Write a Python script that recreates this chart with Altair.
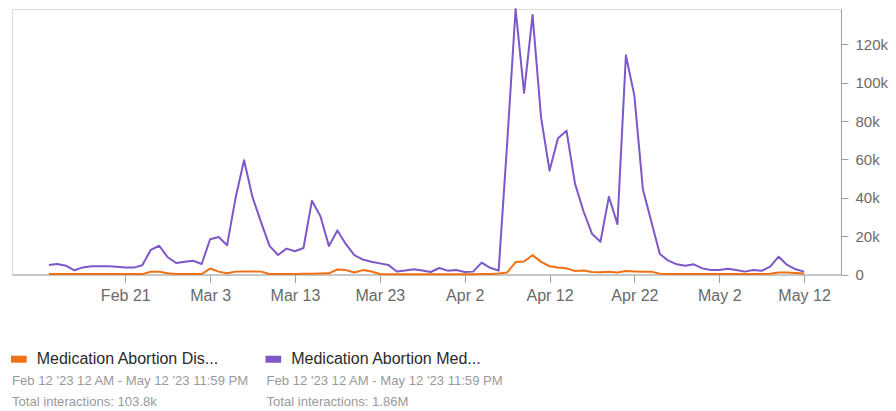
import altair as alt
import pandas as pd

# ---- data (values in thousands of interactions) ----
start_date = "2023-02-12"
end_date = "2023-05-12"

series_names = ["Medication Abortion Med...", "Medication Abortion Dis..."]
series_colors = ["#7e57c8", "#f07014"]
date_range_text = "Feb 12 '23 12 AM - May 12 '23 11:59 PM"
totals_text = ["Total interactions: 1.86M", "Total interactions: 103.8k"]

purple = [5.0, 5.5, 4.6, 2.2, 3.7, 4.3, 4.3, 4.3, 4.1, 3.6,
          3.6, 4.8, 12.8, 15.0, 9.0, 6.0, 6.7, 7.2, 5.5, 18.4,
          19.6, 15.3, 40.0, 59.6, 40.2, 27.3, 14.9, 10.2, 13.5, 12.1,
          13.8, 38.5, 30.4, 14.9, 23.0, 15.8, 10.1, 7.8, 6.7, 5.8,
          5.0, 1.6, 2.1, 2.7, 2.1, 1.3, 3.4, 2.0, 2.3, 1.3,
          1.5, 6.2, 3.5, 2.0, 68.0, 138.5, 94.7, 135.4, 82.0, 54.2,
          71.1, 75.0, 47.4, 33.0, 21.3, 17.1, 40.6, 26.3, 114.4, 93.2,
          44.5, 27.5, 10.7, 7.2, 5.3, 4.6, 5.3, 3.2, 2.3, 2.3,
          3.0, 2.3, 1.5, 2.3, 1.9, 4.1, 9.3, 5.0, 2.7, 1.5]

orange = [0.2, 0.2, 0.2, 0.2, 0.2, 0.2, 0.2, 0.2, 0.2, 0.2,
          0.2, 0.2, 1.4, 1.4, 0.6, 0.2, 0.2, 0.3, 0.2, 3.1,
          1.5, 0.6, 1.5, 1.6, 1.6, 1.5, 0.3, 0.2, 0.2, 0.3,
          0.4, 0.4, 0.5, 0.6, 2.6, 2.3, 1.0, 2.3, 1.6, 0.3,
          0.1, 0.1, 0.1, 0.1, 0.1, 0.1, 0.1, 0.1, 0.1, 0.1,
          0.1, 0.2, 0.3, 0.5, 1.0, 6.5, 6.8, 10.1, 6.6, 4.3,
          3.7, 3.2, 1.8, 2.1, 1.3, 1.2, 1.4, 1.1, 1.8, 1.6,
          1.4, 1.5, 0.4, 0.2, 0.2, 0.2, 0.2, 0.2, 0.2, 0.2,
          0.2, 0.2, 0.2, 0.2, 0.2, 0.4, 1.0, 1.0, 0.8, 0.5]

y_ticks = [0, 20, 40, 60, 80, 100, 120]
x_tick_dates = [(2, 21), (3, 3), (3, 13), (3, 23), (4, 2), (4, 12), (4, 22), (5, 2), (5, 12)]

dates = pd.date_range(start_date, end_date, freq="D").strftime("%Y-%m-%dT00:00:00Z")
df = pd.concat([
    pd.DataFrame({"date": dates, "value": purple, "series": series_names[0]}),
    pd.DataFrame({"date": dates, "value": orange, "series": series_names[1]}),
])

FONT = "Liberation Sans"
W, H = 829, 265.5

x_scale = alt.Scale(
    type="utc",
    domain=[alt.DateTime(year=2023, month=2, date=7, hours=15, minutes=36, utc=True),
            alt.DateTime(year=2023, month=5, date=16, hours=8, minutes=24, utc=True)],
)

lines = alt.Chart(df).mark_line(strokeWidth=2, strokeJoin="round").encode(
    x=alt.X("date:T", scale=x_scale, title=None,
            axis=alt.Axis(values=[alt.DateTime(year=2023, month=m, date=d, utc=True) for m, d in x_tick_dates],
                          labelExpr="utcFormat(datum.value, '%b %-d')",
                          grid=False, domainColor="#a0a0a0", tickColor="#a0a0a0",
                          tickSize=8, labelPadding=18, labelBaseline="alphabetic",
                          labelColor="#6a6a6a", labelFont=FONT, labelFontSize=16,
                          labelFlush=False, labelOverlap=False)),
    y=alt.Y("value:Q", scale=alt.Scale(domain=[0, 138.5], nice=False), title=None,
            axis=alt.Axis(orient="right", values=y_ticks,
                          labelExpr="datum.value == 0 ? '0' : datum.value + 'k'",
                          grid=False, domainColor="#a0a0a0", tickColor="#a0a0a0",
                          tickSize=7, labelPadding=7,
                          labelColor="#6a6a6a", labelFont=FONT, labelFontSize=15,
                          labelFlush=False, labelOverlap=False)),
    color=alt.Color("series:N", scale=alt.Scale(domain=series_names, range=series_colors), legend=None),
    order=alt.Order("date:T"),
)

def legend_entry(idx, x0):
    sq = alt.Chart(df.head(1)).mark_rect(color=series_colors[idx]).encode(
        x=alt.value(x0 - 1), x2=alt.value(x0 + 14.7),
        y=alt.value(346.7), y2=alt.value(353.7))
    title = alt.Chart(df.head(1)).mark_text(
        text=series_names[idx], align="left", baseline="middle",
        font=FONT, fontSize=16, color="#2a2a2a").encode(
        x=alt.value(x0 + 24.7), y=alt.value(350))
    l2 = alt.Chart(df.head(1)).mark_text(
        text=date_range_text, align="left", baseline="middle",
        font=FONT, fontSize=13.1, color="#9a9a9a").encode(
        x=alt.value(x0), y=alt.value(371.7))
    l3 = alt.Chart(df.head(1)).mark_text(
        text=totals_text[idx], align="left", baseline="middle",
        font=FONT, fontSize=13.1, color="#9a9a9a").encode(
        x=alt.value(x0), y=alt.value(392.7))
    return [sq, title, l2, l3]

chart = alt.layer(
    lines,
    *legend_entry(1, 0),
    *legend_entry(0, 254.5),
).properties(
    width=W, height=H,
    padding={"left": 4, "top": 1, "right": 47, "bottom": 136},
    autosize=alt.AutoSizeParams(type="none"),
).configure_view(stroke=None).configure(background="white")

chart.save("out.html", embed_options={"renderer": "svg", "actions": False})
